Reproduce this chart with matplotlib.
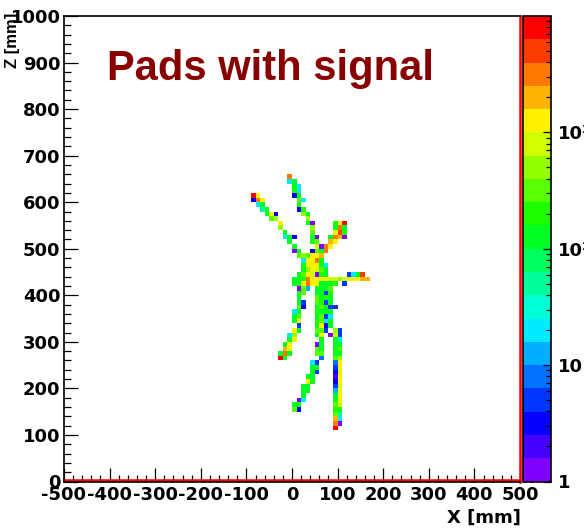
import numpy as np
import matplotlib
matplotlib.use("Agg")
import matplotlib.pyplot as plt
from matplotlib.colors import ListedColormap, LogNorm
from matplotlib.ticker import MultipleLocator, FixedLocator, FixedFormatter, LogLocator

plt.rcParams["font.family"] = ["DejaVu Sans"]
plt.rcParams["axes.unicode_minus"] = False

# pads with signal, one entry per z row (z = lower bin edge in mm)
# row_x: lower bin edge in x [mm], row_q: collected charge (adc)
row_z = [650, 640, 630, 620, 610, 600, 590, 580, 570, 560,
         550, 540, 530, 520, 510, 500, 490, 480, 470, 460,
         450, 440, 430, 420, 410, 400, 390, 380, 370, 360,
         350, 340, 330, 320, 310, 300, 290, 280, 270, 260,
         250, 240, 230, 220, 210, 200, 190, 180, 170, 160,
         150, 140, 130, 120, 110]
row_x = [
    [-10],
    [-10, 0],
    [0, 10],
    [0, 10],
    [-90, -80, 0, 10],
    [-90, -80, -70, 10, 20],
    [-80, -70, 10],
    [-70, -60, 10, 20],
    [-60, -50, -40, 20, 30],
    [-50, -40, 30],
    [-30, 30, 40, 90, 100, 110],
    [-30, 40, 90, 100, 110],
    [-20, 40, 90, 100, 110],
    [-20, -10, 0, 40, 50, 80, 90, 100, 110],
    [-10, 40, 50, 80, 90],
    [0, 50, 60, 70, 80],
    [0, 10, 40, 50, 60, 70],
    [10, 20, 30, 40, 50, 60],
    [20, 30, 40, 50, 60],
    [20, 30, 40, 50, 60, 70],
    [20, 30, 40, 50, 60, 70],
    [10, 20, 30, 40, 50, 60, 70, 120, 130, 140, 150],
    [0, 10, 20, 30, 40, 50, 60, 70, 80, 90, 100, 110, 120, 130, 140, 150, 160],
    [0, 10, 20, 30, 40, 50, 60, 70, 80, 90, 110],
    [10, 20, 30, 50, 60, 70, 80],
    [10, 20, 50, 60, 70, 80],
    [10, 50, 60, 70, 80],
    [10, 20, 50, 60, 70, 80],
    [10, 20, 50, 60, 70, 80, 90],
    [0, 10, 50, 60, 70, 80],
    [0, 10, 50, 60, 70, 80],
    [0, 10, 50, 60, 70, 80],
    [10, 50, 60, 70, 80],
    [0, 10, 50, 60, 70, 90, 100],
    [-10, 0, 50, 60, 80, 90, 100],
    [-10, 0, 60, 90, 100],
    [-20, -10, 50, 60, 90, 100],
    [-20, -10, 50, 60, 90, 100],
    [-30, -20, -10, 50, 60, 90, 100],
    [-30, -20, 60, 90, 100],
    [40, 50, 90, 100],
    [40, 50, 90, 100],
    [40, 50, 90, 100],
    [30, 40, 90, 100],
    [30, 40, 90, 100],
    [20, 30, 90, 100],
    [20, 30, 90, 100],
    [20, 90, 100],
    [10, 20, 90, 100],
    [0, 10, 90, 100],
    [0, 10, 90, 100],
    [90, 100],
    [90, 100],
    [90, 100],
    [90],
]
row_q = [
    [3200],
    [20, 125],
    [125, 20],
    [200, 20],
    [8000, 1250, 3, 125],
    [3, 3200, 1250, 320, 20],
    [20, 125, 200],
    [50, 125, 3, 200],
    [125, 1250, 3, 500, 125],
    [320, 500, 500],
    [1250, 125, 1.2, 200, 1250, 8000],
    [500, 500, 125, 3200, 125],
    [125, 320, 1250, 5000, 200],
    [20, 125, 3, 125, 1.2, 125, 3200, 2000, 1.2],
    [125, 200, 320, 2000, 1250],
    [125, 800, 1.2, 3200, 1250],
    [1.2, 125, 3, 320, 125, 3200],
    [320, 500, 320, 1250, 1250, 2000],
    [20, 1250, 1250, 3200, 125],
    [200, 1250, 1250, 1250, 125, 20],
    [125, 500, 1250, 800, 320, 125],
    [125, 320, 1250, 800, 1.2, 200, 125, 5, 20, 125, 5000],
    [125, 125, 200, 3200, 1250, 1250, 1250, 1250, 800, 800, 500, 800, 800, 1250, 1250, 2000, 2000],
    [125, 125, 1250, 3200, 1250, 1250, 125, 125, 125, 200, 5],
    [1.2, 320, 13, 125, 125, 125, 320],
    [125, 320, 125, 125, 5, 200],
    [125, 320, 125, 200, 125],
    [125, 5, 320, 200, 5, 125],
    [320, 3, 125, 320, 125, 5, 5],
    [20, 125, 200, 125, 125, 125],
    [125, 320, 125, 320, 5, 20],
    [125, 1250, 200, 320, 20, 125],
    [5, 125, 1250, 3, 125],
    [1250, 125, 320, 320, 5, 500, 5],
    [20, 500, 125, 1250, 1.2, 800, 5],
    [125, 1250, 125, 125, 20],
    [125, 1250, 1.2, 125, 125, 125],
    [2000, 1250, 320, 125, 200, 320],
    [125, 3200, 125, 320, 320, 125, 125],
    [8000, 125, 8, 320, 500],
    [20, 5, 8, 1250],
    [125, 125, 5, 1250],
    [125, 5, 3, 800],
    [125, 125, 2, 1250],
    [1250, 125, 3, 1250],
    [125, 125, 5, 800],
    [125, 125, 13, 1250],
    [125, 125, 1250],
    [1.2, 20, 125, 1250],
    [125, 125, 320, 800],
    [320, 3, 200, 200],
    [320, 50],
    [2000, 20],
    [3200, 1.2],
    [8000],
]

# ROOT-like palette, 20 contour levels from violet to red
palette = ["#8000ff", "#4300ff", "#0700ff", "#0036ff", "#0072ff",
           "#00aeff", "#00ebff", "#00ffd7", "#00ff9a", "#00ff5e",
           "#00ff22", "#1bff00", "#57ff00", "#94ff00", "#d0ff00",
           "#fff200", "#ffb500", "#ff7900", "#ff3c00", "#ff0000"]

pad_x = np.concatenate([np.array(xs, dtype=float) for xs in row_x])
pad_z = np.concatenate([np.full(len(xs), z, dtype=float) for z, xs in zip(row_z, row_x)])
pad_q = np.concatenate([np.array(qs, dtype=float) for qs in row_q])

xedges = np.arange(-500, 501, 10)
zedges = np.arange(0, 1001, 10)
h, xe, ze = np.histogram2d(pad_x + 5, pad_z + 5, bins=[xedges, zedges], weights=pad_q)

fig = plt.figure(figsize=(5.84, 5.29), dpi=100)
ax = fig.add_axes([64 / 584, 1 - 481.5 / 529, 456 / 584, 465.5 / 529])

cmap = ListedColormap(palette)
mesh = ax.pcolormesh(xe, ze, np.ma.masked_equal(h.T, 0), cmap=cmap,
                     norm=LogNorm(vmin=1, vmax=1e4), edgecolors="none")

ax.set_xlim(-500, 500)
ax.set_ylim(0, 1000)
ax.xaxis.set_major_locator(MultipleLocator(100))
ax.xaxis.set_minor_locator(MultipleLocator(20))
ax.yaxis.set_major_locator(MultipleLocator(100))
ax.yaxis.set_minor_locator(MultipleLocator(20))
ax.tick_params(which="both", direction="in", top=False, right=False, width=0.9,
               labelsize=13)
ax.tick_params(which="major", length=10)
ax.tick_params(which="minor", length=5)
ax.tick_params(axis="x", pad=3)
ax.tick_params(axis="y", pad=2.5)
for lab in ax.get_xticklabels() + ax.get_yticklabels():
    lab.set_fontweight("bold")
for s in ax.spines.values():
    s.set_linewidth(1.2)
ax.spines["right"].set_color("red")
ax.spines["right"].set_linewidth(1.8)
ax.plot([0, 1], [0.004, 0.004], transform=ax.transAxes, color="red", lw=1.8,
        clip_on=False)

# palette axis
cax = fig.add_axes([523 / 584, 1 - 481.5 / 529, 28 / 584, 465.5 / 529])
cb = fig.colorbar(mesh, cax=cax)
cb.outline.set_linewidth(1.2)
cax.yaxis.set_major_locator(FixedLocator([1, 10, 100, 1000]))
cax.yaxis.set_major_formatter(FixedFormatter(["1", "10", "10²", "10³"]))
cax.yaxis.set_minor_locator(LogLocator(base=10, subs=np.arange(2, 10)))
cax.tick_params(which="both", direction="in", right=True, left=False, width=0.9,
                labelsize=13, pad=5)
cax.tick_params(which="major", length=6)
cax.tick_params(which="minor", length=3.5)
for lab in cax.get_yticklabels():
    lab.set_fontweight("bold")

fig.text(107 / 584, 1 - 80 / 529, "Pads with signal", color="#880000",
         fontsize=30, fontweight="bold", family="Liberation Sans", va="baseline")
fig.text(12 / 584, 1 - 13 / 529, "Z [mm]", rotation=90, ha="center", va="top",
         fontsize=12, fontweight="bold", family="Liberation Sans")
fig.text(521 / 584, 1 - 518 / 529, "X [mm]", ha="right", va="center",
         fontsize=13, fontweight="bold")

fig.savefig("out.png", dpi=100)
